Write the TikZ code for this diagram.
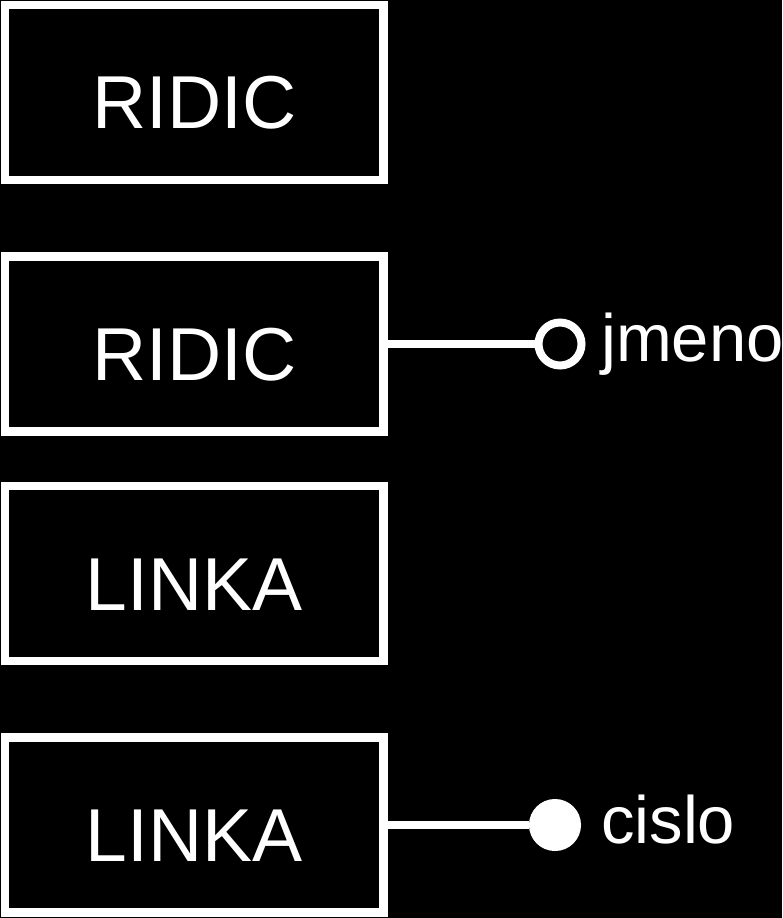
\documentclass[tikz,border=0pt]{standalone}
\usepackage{fontspec}
\setmainfont{Liberation Sans}
\begin{document}
\begin{tikzpicture}[x=1pt,y=-1pt,
  entity/.style={draw=white,line width=8.5pt,fill=black,text=white,minimum width=378.5pt,minimum height=175pt,inner sep=0pt,text height=73pt,text depth=0pt,font=\fontsize{75}{90}\selectfont},
  attr/.style={circle,draw=white,line width=8pt,minimum size=43pt,inner sep=0pt},
  attrkey/.style={attr,fill=white,minimum size=44pt},
  attrname/.style={anchor=base west,inner sep=0pt,text=white,font=\fontsize{67}{80}\selectfont},
  link/.style={draw=white,line width=8pt}]
\fill[black] (0,0) rectangle (782,918);
\useasboundingbox (0,0) rectangle (782,918);
\node[entity] (ridic1) at (194.25,92.25) {RIDIC};
\node[entity] (ridic2) at (194.25,344) {RIDIC};
\node[entity] (linka1) at (194.25,573.5) {LINKA};
\node[entity] (linka2) at (194.25,825) {LINKA};
\node[attr] (jmenodot) at (560,344) {};
\node[attrkey] (cislodot) at (555,825) {};
\node[attrname] (jmeno) at (601,361) {jmeno};
\node[attrname] (cislo) at (601,843) {cislo};
\draw[link] (ridic2.east) -- (jmenodot.west);
\draw[link] (linka2.east) -- (cislodot.west);
\end{tikzpicture}
\end{document}
